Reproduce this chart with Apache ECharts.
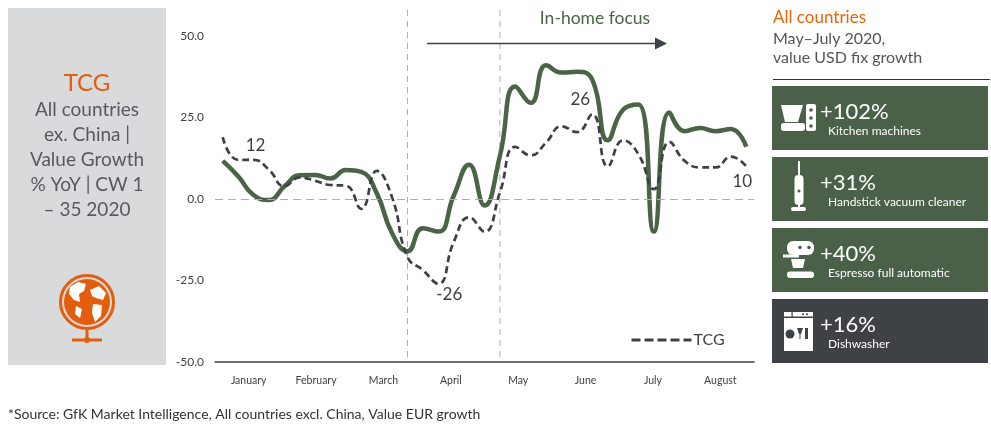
<!DOCTYPE html>
<html>
<head>
<meta charset="utf-8">
<script src="https://cdn.jsdelivr.net/npm/echarts@6/dist/echarts.min.js"></script>
<style>
html,body{margin:0;padding:0;background:#fff;}
#c{width:991px;height:439px;}
</style>
</head>
<body>
<div id="c"></div>
<script>
const weeks = ['CW1','CW2','CW3','CW4','CW5','CW6','CW7','CW8','CW9','CW10','CW11','CW12','CW13','CW14','CW15','CW16','CW17','CW18','CW19','CW20','CW21','CW22','CW23','CW24','CW25','CW26','CW27','CW28','CW29','CW30','CW31','CW32','CW33','CW34','CW35'];
const months = ['January','February','March','April','May','June','July','August'];
const inHomeSeries = [11.7, 7, 1.2, -0.3, 3.8, 7.3, 7.4, 6.3, 8.9, 8.3, 1.8, -10.5, -16, -9, -10, 1, 10.5, -2, 13.2, 34.5, 29.5, 41, 38.8, 39, 36.6, 18, 27.4, 29, -10, 26.5, 20.8, 21.8, 20.8, 21.5, 16];
const tcgSeries = [19, 12, 12, 9, 3.9, 6.6, 5.6, 4.3, 4.1, -3, 8.6, 0.5, -17.8, -21.8, -26, -13.2, -5.6, -10, 2, 16, 13.4, 17.3, 22.3, 20.5, 26, 10, 18, 13.7, 3, 17.5, 11.7, 9.7, 9.7, 13, 10];
const yTicks = {min: -50, max: 50, interval: 25};
const phaseStartWeeks = ['CW13', 'CW19'];
const labelledPoints = [
  {idx: 2, text: '12', position: 'top', offset: [2, 0]},
  {idx: 14, text: '-26', position: 'bottom', offset: [11, -4]},
  {idx: 24, text: '26', position: 'top', offset: [-12, 0]},
  {idx: 34, text: '10', position: 'bottom', offset: [-4, 1]}
];
const highlights = [
  {value: '+102%', name: 'Kitchen machines', color: '#4b6049'},
  {value: '+31%', name: 'Handstick vacuum cleaner', color: '#4b6049'},
  {value: '+40%', name: 'Espresso full automatic', color: '#4b6049'},
  {value: '+16%', name: 'Dishwasher', color: '#3e4146'}
];

const FONT = 'Lato, "Open Sans", sans-serif';
const GREEN = '#4a6546';
const DARK = '#3d4045';
const ORANGE = '#e35d0d';
const TXT = '#404040';

const chart = echarts.init(document.getElementById('c'), null, {renderer: 'canvas'});

const tcgMarks = labelledPoints.map(p => ({
  coord: [weeks[p.idx], tcgSeries[p.idx]],
  value: p.text,
  label: {show: true, position: p.position, offset: p.offset, formatter: p.text, distance: 5,
    fontSize: 17, color: TXT, fontFamily: FONT}
}));

function icons() {
  const W = '#ffffff';
  const g = [];
  // Kitchen machine (box 1)
  g.push({type:'polygon', shape:{points:[[781,105],[803,105],[798,122],[785,122]]}, style:{fill:W}, z:20});
  g.push({type:'rect', shape:{x:806,y:104,width:10,height:27,r:2}, style:{fill:W}, z:20});
  [110,118,126].forEach(y => g.push({type:'circle', shape:{cx:811,cy:y,r:1.8}, style:{fill:'#4b6049'}, z:21}));
  g.push({type:'rect', shape:{x:781,y:123,width:24,height:8,r:3}, style:{fill:W}, z:20});
  // Vacuum (box 2)
  g.push({type:'rect', shape:{x:798,y:161,width:2,height:15}, style:{fill:W}, z:20});
  g.push({type:'rect', shape:{x:794.5,y:175,width:9,height:30,r:4}, style:{fill:W}, z:20});
  g.push({type:'circle', shape:{cx:799,cy:191,r:1.5}, style:{fill:'#4b6049'}, z:21});
  g.push({type:'rect', shape:{x:798,y:204,width:2,height:4}, style:{fill:W}, z:20});
  g.push({type:'rect', shape:{x:791,y:207,width:15,height:4,r:2}, style:{fill:W}, z:20});
  // Espresso (box 3)
  g.push({type:'rect', shape:{x:787,y:241,width:27,height:14,r:6}, style:{fill:W}, z:20});
  [800,809].forEach(x => g.push({type:'circle', shape:{cx:x,cy:247.5,r:1.8}, style:{fill:'#4b6049'}, z:21}));
  g.push({type:'rect', shape:{x:783,y:254.5,width:16,height:3}, style:{fill:W}, z:20});
  g.push({type:'polygon', shape:{points:[[791,259],[805,259],[803,268],[793,268]]}, style:{fill:W}, z:20});
  g.push({type:'rect', shape:{x:787,y:271.5,width:27,height:6.5,r:3}, style:{fill:W}, z:20});
  // Dishwasher (box 4)
  g.push({type:'rect', shape:{x:784,y:312,width:29,height:39}, style:{fill:W}, z:20});
  g.push({type:'rect', shape:{x:784,y:316.5,width:29,height:1.5}, style:{fill:'#3e4146'}, z:21});
  g.push({type:'rect', shape:{x:791.5,y:312,width:1.2,height:5}, style:{fill:'#3e4146'}, z:21});
  [803,807].forEach(x => g.push({type:'circle', shape:{cx:x,cy:314.3,r:1}, style:{fill:'#3e4146'}, z:21}));
  g.push({type:'circle', shape:{cx:790,cy:334,r:4.5}, style:{fill:'#3e4146'}, z:21});
  g.push({type:'polygon', shape:{points:[[797,328],[803,328],[801,334],[799,334]]}, style:{fill:'#3e4146'}, z:21});
  g.push({type:'rect', shape:{x:799.5,y:334,width:1,height:5}, style:{fill:'#3e4146'}, z:21});
  g.push({type:'rect', shape:{x:805,y:328,width:3,height:11}, style:{fill:'#3e4146'}, z:21});
  return g;
}

function staticGraphics() {
  const g = [];
  // Left panel
  g.push({type:'rect', shape:{x:8,y:8,width:158,height:357}, style:{fill:'#d9dadc'}, z:1});
  g.push({type:'text', x:87, y:83, style:{text:'TCG', fill:ORANGE, font:'24px ' + FONT, align:'center', verticalAlign:'middle'}, z:5});
  ['All countries','ex. China |','Value Growth','% YoY | CW 1','– 35 2020'].forEach((t, i) => {
    g.push({type:'text', x:87, y:110 + i * 25, style:{text:t, fill:'#565a5e', font:'19px ' + FONT, align:'center', verticalAlign:'middle'}, z:5});
  });
  // Globe
  g.push({type:'circle', shape:{cx:87,cy:302,r:26.5}, style:{fill:'none', stroke:ORANGE, lineWidth:3}, z:5});
  g.push({type:'circle', shape:{cx:87,cy:302,r:23}, style:{fill:ORANGE}, z:5});
  g.push({type:'polygon', shape:{points:[[70,287],[78,282],[86,284],[84,291],[79,294],[80,302],[74,300],[69,294]]}, style:{fill:'#fff'}, z:6});
  g.push({type:'polygon', shape:{points:[[90,290],[99,286],[106,293],[103,300],[96,298],[92,296]]}, style:{fill:'#fff'}, z:6});
  g.push({type:'polygon', shape:{points:[[93,304],[102,305],[101,316],[95,322],[92,313]]}, style:{fill:'#fff'}, z:6});
  g.push({type:'polygon', shape:{points:[[76,306],[82,309],[80,318],[75,314]]}, style:{fill:'#fff'}, z:6});
  g.push({type:'line', shape:{x1:87,y1:330,x2:87,y2:339}, style:{stroke:ORANGE, lineWidth:3}, z:5});
  g.push({type:'line', shape:{x1:72,y1:340,x2:102,y2:340}, style:{stroke:ORANGE, lineWidth:3}, z:5});
  g.push({type:'circle', shape:{cx:87,cy:340,r:3}, style:{fill:ORANGE}, z:5});
  // Footer
  g.push({type:'text', x:8, y:414, style:{text:'*Source: GfK Market Intelligence, All countries excl. China, Value EUR growth', fill:'#333', font:'14px ' + FONT, verticalAlign:'middle'}, z:5});
  // Annotation
  g.push({type:'text', x:595, y:18, style:{text:'In-home focus', fill:GREEN, font:'17.5px ' + FONT, align:'center', verticalAlign:'middle'}, z:5});
  g.push({type:'line', shape:{x1:427,y1:43.5,x2:656,y2:43.5}, style:{stroke:'#3f4247', lineWidth:1.3}, z:5});
  g.push({type:'polygon', shape:{points:[[655,37.5],[667,43.5],[655,49.5]]}, style:{fill:'#3f4247'}, z:5});
  // Right panel header
  g.push({type:'text', x:773, y:18, style:{text:'All countries', fill:'#e8640c', font:'17px ' + FONT, verticalAlign:'middle'}, z:5});
  g.push({type:'text', x:773, y:39, style:{text:'May–July 2020,', fill:'#555', font:'16px ' + FONT, verticalAlign:'middle'}, z:5});
  g.push({type:'text', x:773, y:58, style:{text:'value USD fix growth', fill:'#555', font:'16px ' + FONT, verticalAlign:'middle'}, z:5});
  g.push({type:'line', shape:{x1:773,y1:79.5,x2:990,y2:79.5}, style:{stroke:'#333', lineWidth:1}, z:5});
  // Boxes
  const boxTops = [86, 157, 228, 299];
  highlights.forEach((h, i) => {
    const y0 = boxTops[i];
    g.push({type:'rect', shape:{x:772,y:y0,width:216,height:64}, style:{fill:h.color}, z:10});
    g.push({type:'text', x:820, y:y0 + 26, style:{text:h.value, fill:'#fff', font:'22px ' + FONT, verticalAlign:'middle'}, z:20});
    g.push({type:'text', x:828, y:y0 + 45, style:{text:h.name, fill:'#fff', font:'12px ' + FONT, verticalAlign:'middle'}, z:20});
  });
  return g.concat(icons());
}

const option = {
  animation: false,
  backgroundColor: '#fff',
  textStyle: {fontFamily: FONT},
  grid: {left: 215, right: 237, top: 36, bottom: 77, containLabel: false},
  legend: {
    data: ['TCG'], left: 625, top: 327, itemWidth: 60, itemHeight: 12, itemGap: 4,
    textStyle: {fontSize: 16, color: TXT, fontFamily: FONT, padding: [0,0,0,-3]},
    itemStyle: {color: 'rgba(0,0,0,0)', borderWidth: 0, opacity: 0},
    lineStyle: {color: DARK, width: 3, type: [9, 4]}
  },
  xAxis: [
    {type: 'category', data: weeks, boundaryGap: true,
      axisLine: {onZero: false, lineStyle: {color: TXT, width: 1.5}},
      axisTick: {show: false}, axisLabel: {show: false}, splitLine: {show: false}},
    {type: 'category', data: months, position: 'bottom', boundaryGap: true,
      axisLine: {show: false, onZero: false}, axisTick: {show: false},
      axisLabel: {fontSize: 10.5, color: TXT, margin: 13, fontFamily: FONT}, splitLine: {show: false}}
  ],
  yAxis: {
    type: 'value', min: yTicks.min, max: yTicks.max, interval: yTicks.interval,
    axisLine: {show: false}, axisTick: {show: false}, splitLine: {show: false},
    axisLabel: {formatter: v => v.toFixed(1), fontSize: 12, color: TXT, margin: 11, fontFamily: FONT}
  },
  series: [
    {name: 'Small domestic appliances', type: 'line', data: inHomeSeries, smooth: 0.5, symbol: 'none',
      lineStyle: {color: GREEN, width: 4.5}, itemStyle: {color: GREEN}, z: 3,
      markLine: {silent: true, symbol: 'none', label: {show: false},
        lineStyle: {color: '#a9aeb3', type: [8, 5], width: 1}, data: [{yAxis: 0}]}},
    {name: 'TCG', type: 'line', data: tcgSeries, smooth: 0.5, symbol: 'none',
      lineStyle: {color: DARK, width: 2.7, type: [7, 4]}, itemStyle: {color: DARK}, z: 4,
      markPoint: {silent: true, symbol: 'circle', symbolSize: 2,
        itemStyle: {color: 'rgba(0,0,0,0)'}, data: tcgMarks}}
  ],
  graphic: staticGraphics()
};

chart.setOption(option);

// Vertical phase lines positioned by the category axis
const extra = phaseStartWeeks.map(w => {
  const x = chart.convertToPixel({xAxisIndex: 0}, w);
  const yBottom = chart.convertToPixel({yAxisIndex: 0}, yTicks.min);
  return {type: 'line', shape: {x1: x, y1: 10, x2: x, y2: yBottom},
    style: {stroke: '#a9aeb3', lineWidth: 1, lineDash: [6, 5]}, z: 2, silent: true};
});
chart.setOption({graphic: staticGraphics().concat(extra)});
</script>
</body>
</html>
